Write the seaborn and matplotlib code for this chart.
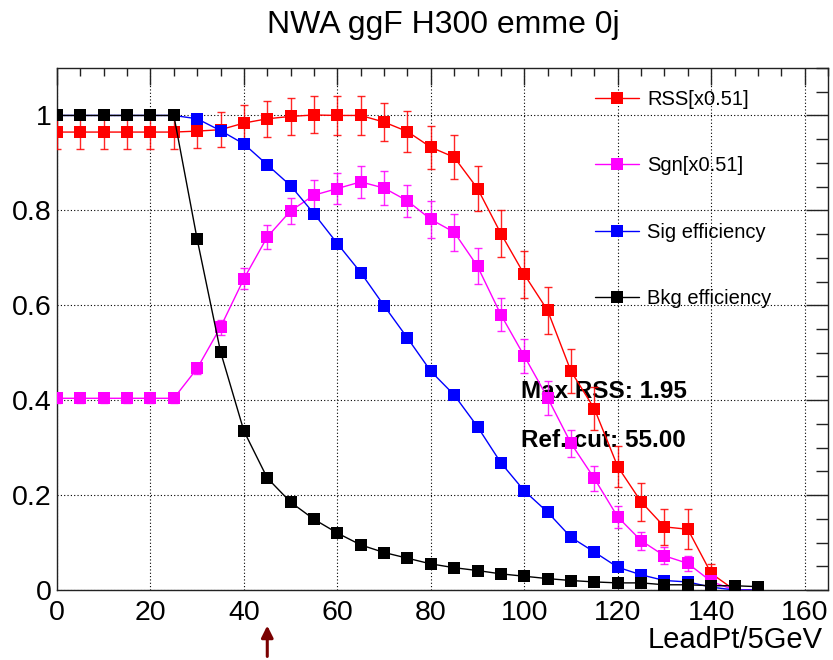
import numpy as np
import pandas as pd
import seaborn as sns
import matplotlib
matplotlib.use("Agg")
import matplotlib.pyplot as plt
from matplotlib.lines import Line2D
from matplotlib.ticker import MultipleLocator

# ---------------- data ----------------
x_cut = [0, 5, 10, 15, 20, 25, 30, 35, 40, 45, 50, 55, 60, 65, 70, 75, 80, 85,
         90, 95, 100, 105, 110, 115, 120, 125, 130, 135, 140, 145, 150]

rss = [0.965, 0.965, 0.965, 0.965, 0.965, 0.965, 0.967, 0.970, 0.984, 0.993,
       0.998, 1.001, 1.000, 1.000, 0.986, 0.966, 0.933, 0.912, 0.846, 0.751,
       0.665, 0.589, 0.461, 0.382, 0.260, 0.186, 0.133, 0.128, 0.035, 0.0, 0.0]
rss_err = [0.036, 0.036, 0.036, 0.036, 0.036, 0.036, 0.036, 0.037, 0.037, 0.038,
           0.039, 0.039, 0.041, 0.042, 0.040, 0.043, 0.045, 0.046, 0.047, 0.049,
           0.049, 0.050, 0.046, 0.045, 0.044, 0.040, 0.038, 0.042, 0.020, 0.0, 0.0]

sgn = [0.404, 0.404, 0.404, 0.404, 0.404, 0.404, 0.467, 0.554, 0.656, 0.744,
       0.799, 0.832, 0.846, 0.860, 0.847, 0.820, 0.781, 0.754, 0.682, 0.580,
       0.493, 0.405, 0.309, 0.235, 0.154, 0.104, 0.072, 0.056, 0.018, 0.0, 0.0]
sgn_err = [0.010, 0.010, 0.010, 0.010, 0.010, 0.010, 0.012, 0.016, 0.022, 0.026,
           0.028, 0.032, 0.033, 0.033, 0.035, 0.034, 0.039, 0.039, 0.038, 0.035,
           0.036, 0.036, 0.029, 0.026, 0.023, 0.019, 0.018, 0.015, 0.008, 0.0, 0.0]

sig_eff = [1.0, 1.0, 1.0, 1.0, 1.0, 1.0, 0.993, 0.968, 0.940, 0.896,
           0.852, 0.793, 0.730, 0.669, 0.599, 0.531, 0.461, 0.411, 0.344, 0.268,
           0.209, 0.164, 0.111, 0.080, 0.048, 0.032, 0.020, 0.017, 0.006, 0.0, 0.0]

bkg_eff = [1.0, 1.0, 1.0, 1.0, 1.0, 1.0, 0.739, 0.502, 0.335, 0.236,
           0.185, 0.149, 0.120, 0.095, 0.079, 0.067, 0.055, 0.047, 0.041, 0.034,
           0.029, 0.024, 0.020, 0.017, 0.015, 0.015, 0.011, 0.011, 0.009, 0.009, 0.007]

labels = ["RSS[x0.51]", "Sgn[x0.51]", "Sig efficiency", "Bkg efficiency"]
colors = ["#ff0000", "#ff00ff", "#0000ff", "#000000"]
title = "NWA ggF H300 emme 0j"
xlabel = "LeadPt/5GeV"
info_lines = ["Max RSS: 1.95", "Ref. cut: 55.00"]
ref_arrow_x = 45
x_ticks = [0, 20, 40, 60, 80, 100, 120, 140, 160]
y_ticks = [0, 0.2, 0.4, 0.6, 0.8, 1.0]
y_ticklabels = ["0", "0.2", "0.4", "0.6", "0.8", "1"]

# ---------------- style ----------------
sns.set_style("white")
plt.rcParams["font.family"] = ["Liberation Sans", "DejaVu Sans"]
plt.rcParams["text.color"] = "black"

W, H = 833, 660
fig = plt.figure(figsize=(W / 100, H / 100), dpi=100)
ax = fig.add_axes([57 / W, 70 / H, 771 / W, 522 / H])

df = pd.DataFrame({"x": x_cut, "rss": rss, "sgn": sgn, "sig": sig_eff, "bkg": bkg_eff})
series = [("rss", rss_err), ("sgn", sgn_err), ("sig", None), ("bkg", None)]

for i, (col, err) in enumerate(series):
    c = colors[i]
    z = 3 + i
    if err is not None:
        ax.errorbar(df["x"], df[col], yerr=err, fmt="none", ecolor=c,
                    elinewidth=1.0, capsize=3.0, capthick=1.0, zorder=z, alpha=0.85)
    sns.lineplot(data=df, x="x", y=col, ax=ax, color=c, linewidth=1.0,
                 marker="s", markersize=8, markeredgewidth=0, zorder=z,
                 legend=False)

ax.set_xlim(0, 165)
ax.set_ylim(0, 1.1)
ax.set_xticks(x_ticks)
ax.set_yticks(y_ticks)
ax.set_yticklabels(y_ticklabels)
ax.xaxis.set_minor_locator(MultipleLocator(5))
ax.yaxis.set_minor_locator(MultipleLocator(0.05))

ax.tick_params(axis="both", which="both", direction="in", top=True, right=True,
               colors="#222222", width=1.0)
ax.tick_params(axis="y", which="major", length=16, labelsize=20.5, pad=4, labelcolor="black")
ax.tick_params(axis="y", which="minor", length=8.5)
ax.tick_params(axis="x", which="major", length=12, labelsize=20.5, pad=7, labelcolor="black")
ax.tick_params(axis="x", which="minor", length=6)

ax.grid(True, which="major", linestyle=(0, (1, 2)), color="black", linewidth=0.8)
for s in ax.spines.values():
    s.set_color("#222222")
    s.set_linewidth(1.0)

ax.set_xlabel("")
ax.set_ylabel("")
fig.text(823 / W, 1 - 648 / H, xlabel, ha="right", va="baseline", fontsize=21)
fig.text(443 / W, 1 - 33 / H, title, ha="center", va="baseline", fontsize=23)

# info text
ax.text(99.3, 0.404, info_lines[0], fontsize=17.5, fontweight="bold", zorder=2,
        va="baseline", ha="left", color="black")
ax.text(99.3, 0.302, info_lines[1], fontsize=17.5, fontweight="bold", zorder=2,
        va="baseline", ha="left", color="black")

# reference arrow below axis
ax.annotate("", xy=(ref_arrow_x, -0.075), xytext=(ref_arrow_x, -0.14),
            arrowprops=dict(arrowstyle="-|>,head_width=0.35,head_length=0.7",
                            color="#7a0000", lw=2.2, shrinkA=0, shrinkB=0),
            annotation_clip=False)

# legend
handles = [Line2D([0], [0], color=c, lw=1.0, marker="s", markersize=8,
                  markeredgewidth=0) for c in colors]
leg = ax.legend(handles, labels, loc="upper left",
                bbox_to_anchor=(595 / W, 1 - 90 / H), bbox_transform=fig.transFigure,
                frameon=False, fontsize=14.5, handlelength=2.2, handletextpad=0.4,
                labelspacing=2.35, borderpad=0, borderaxespad=0)
for t in leg.get_texts():
    t.set_color("black")

fig.savefig("out.png", dpi=100)
